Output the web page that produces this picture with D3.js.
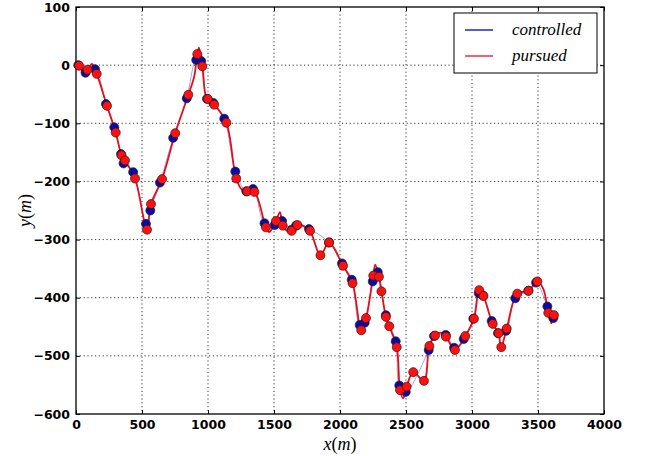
<!DOCTYPE html>
<html>
<head>
<meta charset="utf-8">
<script src="https://cdn.jsdelivr.net/npm/d3@7"></script>
<style>
  body { margin: 0; background: #fff; }
  .tick text { font-family: "DejaVu Sans", sans-serif; font-weight: bold; font-size: 12.5px; fill: #000; }
</style>
</head>
<body>
<svg id="chart"></svg>
<script>

const width = 649;
const height = 456;
const margin = { left: 76, right: 45, top: 7, bottom: 42 };

const xTicks = [0, 500, 1000, 1500, 2000, 2500, 3000, 3500, 4000];
const yTicks = [100, 0, -100, -200, -300, -400, -500, -600];

// sampled positions (markers)
const controlledX = [17, 72, 144, 227, 290, 341, 360, 433, 530, 563, 636, 736, 839, 911, 949, 992, 1040, 1123, 1207, 1290, 1341, 1428, 1505, 1561, 1634, 1667, 1765, 1917, 2015, 2089, 2149, 2187, 2248, 2286, 2347, 2422, 2449, 2498, 2672, 2712, 2801, 2864, 2937, 3010, 3051, 3081, 3149, 3197, 3258, 3328, 3427, 3485, 3571, 3616];
const controlledY = [0, -13, -7, -67, -107, -153, -169, -184, -273, -250, -202, -125, -57, 9, 7, -58, -65, -92, -183, -217, -213, -272, -275, -268, -283, -276, -282, -305, -341, -369, -447, -443, -372, -356, -430, -475, -551, -562, -490, -466, -464, -486, -471, -436, -392, -396, -440, -461, -457, -401, -388, -374, -415, -435];

const pursuedX = [23, 87, 157, 235, 301, 345, 371, 447, 538, 568, 652, 752, 851, 919, 957, 998, 1047, 1139, 1214, 1297, 1352, 1439, 1515, 1566, 1633, 1677, 1773, 1852, 1917, 2023, 2095, 2161, 2197, 2252, 2295, 2314, 2348, 2373, 2430, 2455, 2505, 2555, 2636, 2677, 2720, 2803, 2871, 2949, 3015, 3055, 3087, 3157, 3202, 3222, 3263, 3343, 3428, 3495, 3578, 3621];
const pursuedY = [-1, -8, -15, -70, -116, -155, -164, -195, -283, -239, -196, -117, -51, 19, -2, -58, -68, -99, -195, -217, -218, -279, -268, -276, -285, -275, -285, -327, -305, -345, -375, -456, -435, -362, -364, -389, -433, -449, -485, -559, -553, -528, -543, -483, -465, -467, -490, -466, -436, -387, -397, -445, -461, -485, -453, -393, -388, -372, -426, -430];

// continuous pursued trajectory
const pursuedPathX = [0, 23, 55, 87, 121, 157, 235, 301, 345, 371, 447, 538, 568, 652, 752, 851, 895, 919, 932, 957, 980, 998, 1047, 1139, 1214, 1260, 1297, 1352, 1439, 1464, 1515, 1545, 1566, 1600, 1633, 1677, 1720, 1773, 1852, 1917, 2023, 2095, 2161, 2197, 2252, 2267, 2295, 2314, 2348, 2373, 2430, 2455, 2478, 2505, 2555, 2636, 2677, 2720, 2760, 2803, 2871, 2949, 3015, 3055, 3087, 3157, 3202, 3218, 3263, 3343, 3428, 3495, 3540, 3578, 3603];
const pursuedPathY = [0, -1, -12, -8, 2, -15, -70, -116, -155, -164, -195, -283, -239, -196, -117, -51, -20, 19, 30, -2, -50, -58, -68, -99, -195, -215, -217, -218, -279, -287, -268, -253, -276, -285, -285, -275, -276, -285, -327, -305, -345, -375, -456, -435, -362, -343, -364, -389, -433, -449, -485, -559, -573, -553, -528, -543, -483, -465, -460, -467, -490, -466, -436, -387, -397, -445, -461, -487, -453, -393, -388, -372, -385, -426, -445];

const seriesNames = ["controlled", "pursued"];
const seriesColors = ["#0000cc", "#e3101c"];

const svg = d3.select("#chart")
    .attr("width", width)
    .attr("height", height)
    .style("font-family", "DejaVu Sans, sans-serif");

const xScale = d3.scaleLinear()
    .domain([0, 4000])
    .range([margin.left, width - margin.right]);

const yScale = d3.scaleLinear()
    .domain([-600, 100])
    .range([height - margin.bottom, margin.top]);

const plotW = width - margin.left - margin.right;
const plotH = height - margin.top - margin.bottom;

// grid
const grid = svg.append("g");
grid.selectAll("line.gx")
    .data(xTicks.slice(1, -1))
    .enter().append("line")
    .attr("x1", d => xScale(d)).attr("x2", d => xScale(d))
    .attr("y1", margin.top).attr("y2", height - margin.bottom)
    .attr("stroke", "#222").attr("stroke-width", 0.9)
    .attr("stroke-dasharray", "1.2,2.6");
grid.selectAll("line.gy")
    .data(yTicks.slice(1, -1))
    .enter().append("line")
    .attr("y1", d => yScale(d)).attr("y2", d => yScale(d))
    .attr("x1", margin.left).attr("x2", width - margin.right)
    .attr("stroke", "#222").attr("stroke-width", 0.9)
    .attr("stroke-dasharray", "1.2,2.6");

// axes, matplotlib style ticks pointing inside
const fmt = d => d < 0 ? "\u2212" + Math.abs(d) : String(d);

svg.append("g")
    .attr("transform", `translate(0, ${height - margin.bottom})`)
    .call(d3.axisBottom(xScale).tickValues(xTicks).tickFormat(fmt).tickSize(-4).tickPadding(6))
    .call(g => g.select(".domain").remove());

svg.append("g")
    .attr("transform", `translate(0, ${margin.top})`)
    .call(d3.axisTop(xScale).tickValues(xTicks).tickFormat("").tickSize(-4))
    .call(g => g.select(".domain").remove());

svg.append("g")
    .attr("transform", `translate(${margin.left}, 0)`)
    .call(d3.axisLeft(yScale).tickValues(yTicks).tickFormat(fmt).tickSize(-4).tickPadding(6))
    .call(g => g.select(".domain").remove());

svg.append("g")
    .attr("transform", `translate(${width - margin.right}, 0)`)
    .call(d3.axisRight(yScale).tickValues(yTicks).tickFormat("").tickSize(-4))
    .call(g => g.select(".domain").remove());

svg.append("rect")
    .attr("x", margin.left).attr("y", margin.top)
    .attr("width", plotW).attr("height", plotH)
    .attr("fill", "none").attr("stroke", "#000").attr("stroke-width", 1.3);

// lines
const line = d3.line()
    .x(d => xScale(d[0]))
    .y(d => yScale(d[1]))
    .curve(d3.curveCatmullRom.alpha(0.5));

const controlledPath = [[0, 0]].concat(controlledX.map((x, i) => [x, controlledY[i]]));
const pursuedPath = pursuedPathX.map((x, i) => [x, pursuedPathY[i]]);

svg.append("path")
    .datum(controlledPath)
    .attr("d", line)
    .attr("fill", "none").attr("stroke", seriesColors[0]).attr("stroke-width", 0.6)
    .attr("opacity", 0.6);

svg.append("path")
    .datum(pursuedPath)
    .attr("d", line)
    .attr("fill", "none").attr("stroke", seriesColors[1]).attr("stroke-width", 1.8);

// markers
svg.append("g").selectAll("circle")
    .data(controlledX.map((x, i) => [x, controlledY[i]]))
    .enter().append("circle")
    .attr("cx", d => xScale(d[0]))
    .attr("cy", d => yScale(d[1]))
    .attr("r", 4.5)
    .attr("fill", "#0a0aa8").attr("stroke", "#222").attr("stroke-width", 0.7);

svg.append("g").selectAll("circle")
    .data(pursuedX.map((x, i) => [x, pursuedY[i]]))
    .enter().append("circle")
    .attr("cx", d => xScale(d[0]))
    .attr("cy", d => yScale(d[1]))
    .attr("r", 4.5)
    .attr("fill", "#ff1010").attr("stroke", "#3a1010").attr("stroke-width", 0.7);

// axis labels
const xl = svg.append("text")
    .attr("x", xScale(2000)).attr("y", 450)
    .attr("text-anchor", "middle")
    .style("font-family", "Liberation Serif, serif").style("font-size", "18px");
xl.append("tspan").style("font-style", "italic").text("x");
xl.append("tspan").text("(");
xl.append("tspan").style("font-style", "italic").text("m");
xl.append("tspan").text(")");

const yl = svg.append("text")
    .attr("transform", `translate(31, ${yScale(-250)}) rotate(-90)`)
    .attr("text-anchor", "middle")
    .style("font-family", "Liberation Serif, serif").style("font-size", "18px");
yl.append("tspan").style("font-style", "italic").text("y");
yl.append("tspan").text("(");
yl.append("tspan").style("font-style", "italic").text("m");
yl.append("tspan").text(")");

// legend
const legend = svg.append("g").attr("transform", "translate(454, 13)");
legend.append("rect")
    .attr("width", 143).attr("height", 60)
    .attr("fill", "#fff").attr("stroke", "#000").attr("stroke-width", 1);

seriesNames.forEach((name, i) => {
    const yy = 17 + i * 26;
    legend.append("line")
        .attr("x1", 11).attr("x2", 39)
        .attr("y1", yy).attr("y2", yy)
        .attr("stroke", seriesColors[i]).attr("stroke-width", 1.3);
    legend.append("text")
        .attr("x", 58).attr("y", yy + 5)
        .style("font-family", "Liberation Serif, serif")
        .style("font-style", "italic")
        .style("font-size", "17px")
        .text(name);
});

</script>
</body>
</html>
